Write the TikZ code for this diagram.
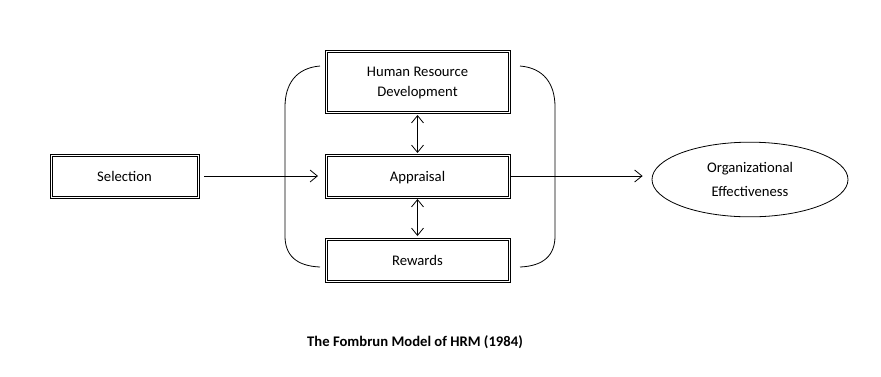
\documentclass[tikz,border=0pt]{standalone}
\usepackage{fontspec}
\setmainfont{Carlito}
\usetikzlibrary{arrows.meta,shapes.geometric}
\begin{document}
\begin{tikzpicture}[x=0.75pt,y=-0.75pt,
  every node/.style={font=\fontsize{11}{15}\selectfont},
  dbox/.style={draw,line width=0.6pt,inner sep=0pt,align=center,outer sep=0.75pt},
  conn/.style={line width=0.6pt,-{Straight Barb[length=5.5pt,width=9pt]}},
  dconn/.style={line width=0.6pt,{Straight Barb[length=5.5pt,width=9pt]}-{Straight Barb[length=5.5pt,width=9pt]}},
  inbox/.style={line width=0.6pt},
  brk/.style={line width=0.6pt}]
\useasboundingbox[fill=white] (0,0) rectangle (881,376);
\node[dbox,minimum width=138.75pt,minimum height=47.25pt,text depth=0pt] (hrd) at (417.5,81.5) {Human Resource\\Development};
\node[dbox,minimum width=138.75pt,minimum height=33pt,text depth=0pt] (app) at (417.5,176) {Appraisal};
\node[dbox,minimum width=138.75pt,minimum height=33pt] (rew) at (417.5,260) {Rewards};
\node[dbox,minimum width=111.75pt,minimum height=33pt] (sel) at (124.5,176) {Selection};
\foreach \n in {hrd,app,rew,sel}{
  \draw[inbox] ([xshift=2.25pt,yshift=-2.25pt]\n.north west) rectangle ([xshift=-2.25pt,yshift=2.25pt]\n.south east);
}
\node[draw,ellipse,line width=0.6pt,minimum width=147pt,minimum height=56pt,inner sep=0pt,align=center,font=\fontsize{11}{17.5}\selectfont] (eff) at (750,179.5) {Organizational\\Effectiveness};
\draw[conn,shorten <=3pt,shorten >=4.5pt] (sel.east) -- (app.west);
\draw[conn,shorten >=6.75pt] (app.east) -- (app.east -| eff.west);
\draw[dconn,shorten <=0.75pt] (hrd.south) -- (app.north);
\draw[dconn,shorten >=0.75pt] (app.south) -- (rew.north);
\draw[brk] (320,66) .. controls (296,68) and (285,84) .. (285,107) -- (285,236) .. controls (285,255) and (296,266) .. (320,267);
\draw[brk] (520,66) .. controls (544,68) and (555,84) .. (555,107) -- (555,236) .. controls (555,255) and (544,266) .. (520,267);
\node[font=\fontsize{11}{13}\selectfont\bfseries] (title) at (415,342) {The Fombrun Model of HRM (1984)};
\end{tikzpicture}
\end{document}
